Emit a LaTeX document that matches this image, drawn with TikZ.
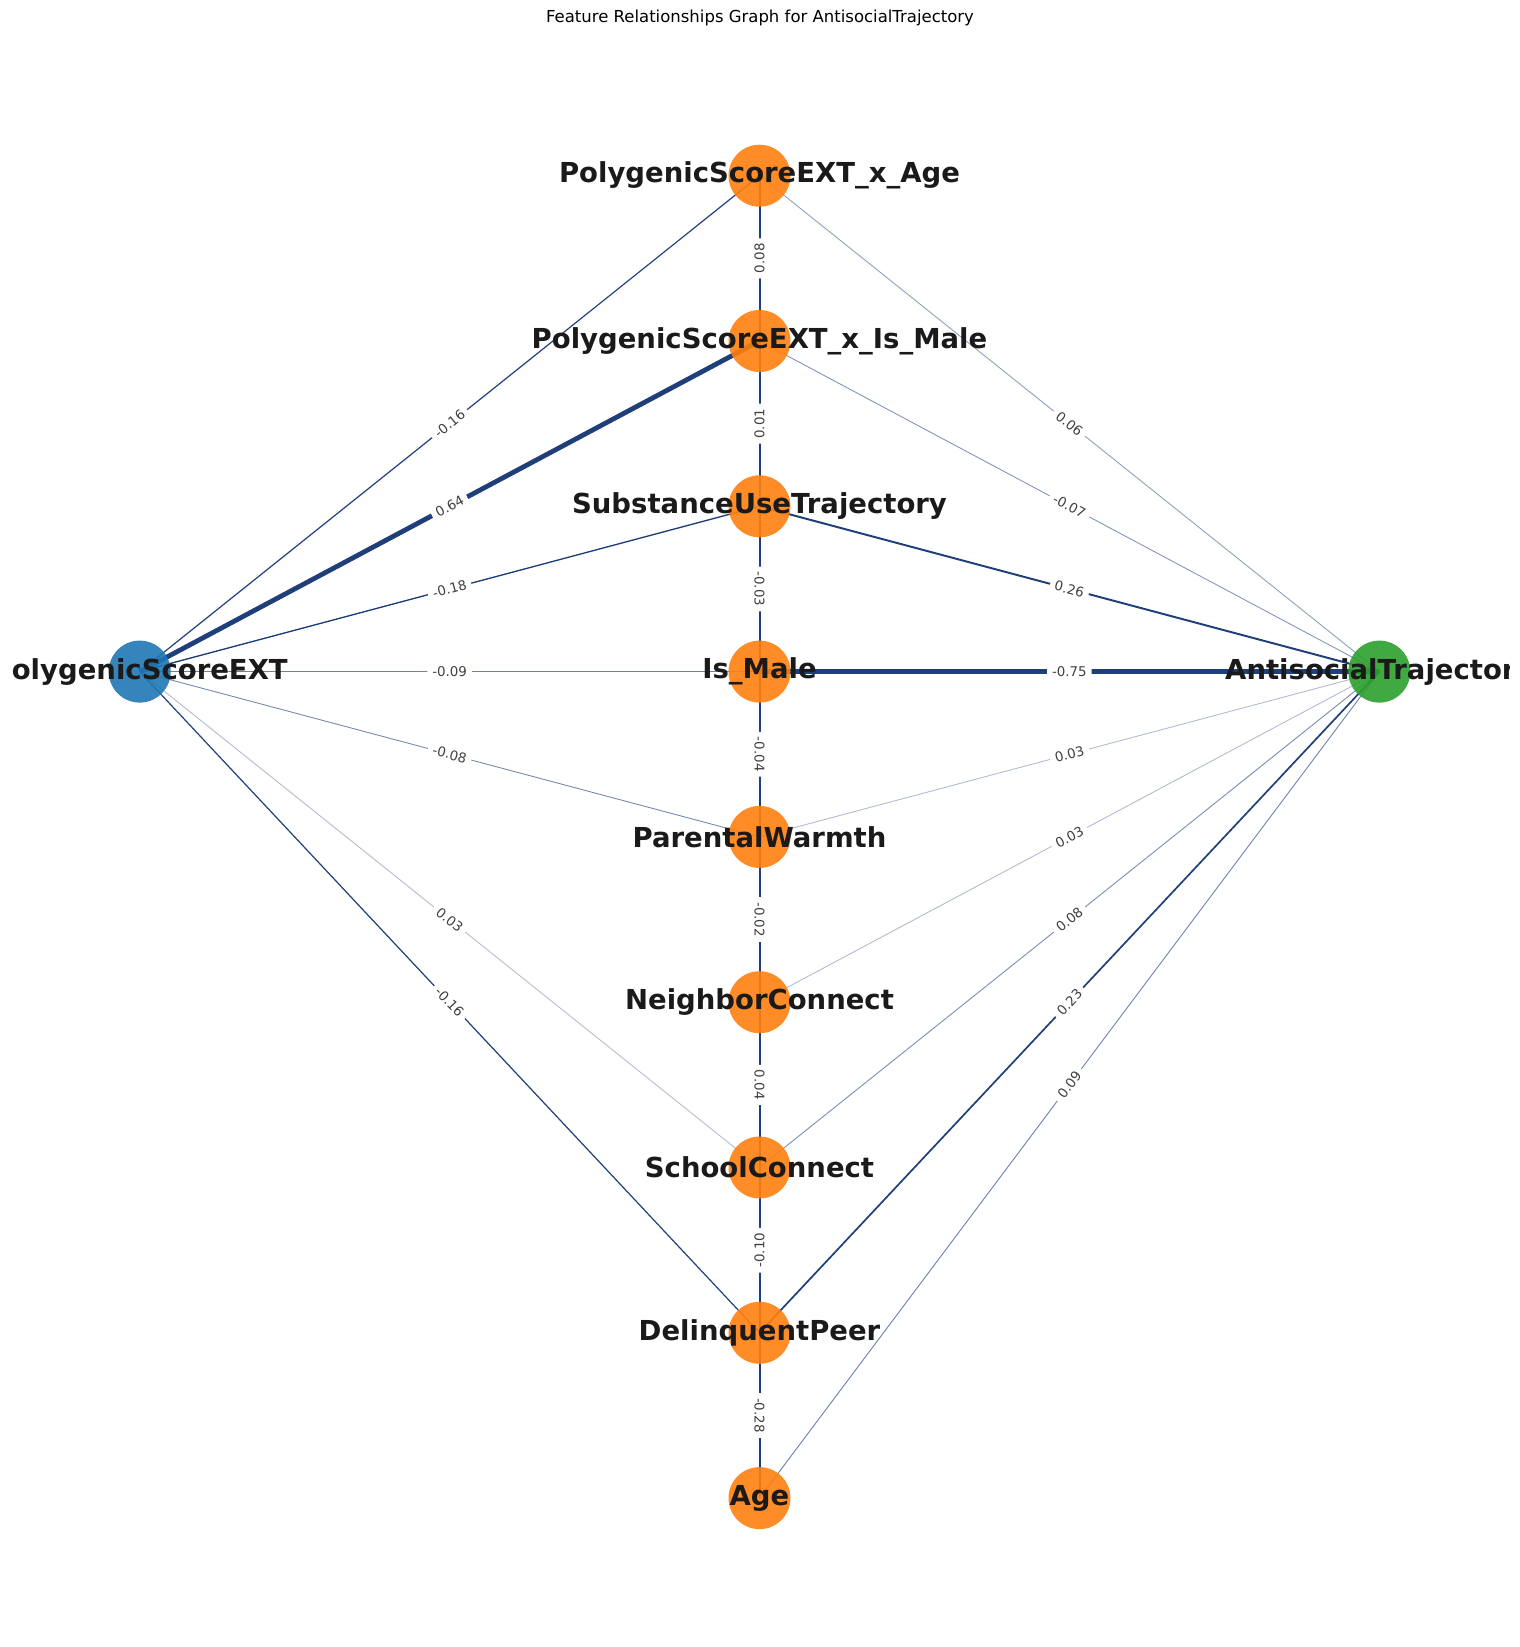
\documentclass[tikz,border=0pt]{standalone}
\usepackage{fontspec}
\setmainfont{DejaVu Sans}
\usepackage{graphicx}

\definecolor{featorange}{RGB}{255,127,14}
\definecolor{predblue}{RGB}{31,119,180}
\definecolor{targetgreen}{RGB}{44,160,44}
\definecolor{edgeblue}{RGB}{30,63,122}
\definecolor{weightgray}{RGB}{64,64,64}
\definecolor{namedark}{RGB}{26,26,26}

\pgfdeclarelayer{edges}
\pgfdeclarelayer{weights}
\pgfsetlayers{edges,weights,main}

\tikzset{
  dot/.style={circle, minimum size=62pt, inner sep=0pt, draw=none,
              fill=#1, fill opacity=0.9},
  dot/.default=featorange,
  featname/.style={font=\bfseries\fontsize{27.5}{30}\selectfont,
                   text=namedark, inner sep=0pt},
  weight/.style={font=\fontsize{13.4}{15}\selectfont, text=weightgray,
                 fill=white, rounded corners=4pt, inner xsep=5pt, inner ysep=3pt},
  rel/.style 2 args={draw=edgeblue, line width=#1pt, draw opacity=#2},
  chain/.style={draw=edgeblue, line width=2pt}
}

\begin{document}
\begin{tikzpicture}[x=1pt, y=-1pt]
  \clip (0,0) rectangle (1520,1647);

  % title
  \node (title) at (760,18)
    {\fontsize{16.5}{18}\selectfont Feature Relationships Graph for AntisocialTrajectory};

  % nodes
  \node[dot=predblue]    (pgs)    at (139.7,671.6)  {};
  \node[dot=targetgreen] (anti)   at (1379.3,671.6) {};
  \node[dot] (psage)  at (759.5,175.7)  {};
  \node[dot] (psmale) at (759.5,341.0)  {};
  \node[dot] (sub)    at (759.5,506.3)  {};
  \node[dot] (male)   at (759.5,671.6)  {};
  \node[dot] (warm)   at (759.5,836.9)  {};
  \node[dot] (neigh)  at (759.5,1002.2) {};
  \node[dot] (school) at (759.5,1167.5) {};
  \node[dot] (peer)   at (759.5,1332.8) {};
  \node[dot] (age)    at (759.5,1498.1) {};

  % names
  \node[featname] (psage-t)  at (psage)  {PolygenicScoreEXT\_x\_Age};
  \node[featname] (psmale-t) at (psmale) {PolygenicScoreEXT\_x\_Is\_Male};
  \node[featname] (sub-t)    at (sub)    {SubstanceUseTrajectory};
  \node[featname] (male-t)   at (male)   {Is\_Male};
  \node[featname] (warm-t)   at (warm)   {ParentalWarmth};
  \node[featname] (neigh-t)  at (neigh)  {NeighborConnect};
  \node[featname] (school-t) at (school) {SchoolConnect};
  \node[featname] (peer-t)   at (peer)   {DelinquentPeer};
  \node[featname] (age-t)    at (age)    {Age};
  \begin{scope}
    \clip (11,0) rectangle (1509,1647);
    \node[featname] (pgs-t)  at (pgs)  {PolygenicScoreEXT};
    \node[featname] (anti-t) at (anti) {AntisocialTrajectory};
  \end{scope}

  % edges and their weights
  \begin{pgfonlayer}{edges}
    % from the polygenic score
    \draw[rel={1.2}{1}]    (pgs.center) -- (psage.center)  coordinate[midway] (m1);
    \draw[rel={4.8}{1}]    (pgs.center) -- (psmale.center) coordinate[midway] (m2);
    \draw[rel={1.35}{1}]   (pgs.center) -- (sub.center);
    \draw[rel={0.9}{0.65}] (pgs.center) -- (male.center);
    \draw[rel={0.9}{0.6}]  (pgs.center) -- (warm.center);
    \draw[rel={0.9}{0.35}] (pgs.center) -- (school.center);
    \draw[rel={1.2}{1}]    (pgs.center) -- (peer.center);
    % into the target
    \draw[rel={0.9}{0.5}]  (psage.center)  -- (anti.center);
    \draw[rel={0.9}{0.55}] (psmale.center) -- (anti.center);
    \draw[rel={1.95}{1}]   (sub.center)    -- (anti.center);
    \draw[rel={5.6}{1}]    (male.center)   -- (anti.center);
    \draw[rel={0.9}{0.35}] (warm.center)   -- (anti.center);
    \draw[rel={0.9}{0.35}] (neigh.center)  -- (anti.center);
    \draw[rel={0.9}{0.6}]  (school.center) -- (anti.center);
    \draw[rel={1.7}{1}]    (peer.center)   -- (anti.center);
    \draw[rel={0.9}{0.65}] (age.center)    -- (anti.center);
    % between neighbouring features
    \draw[chain] (psage.center)  -- (psmale.center);
    \draw[chain] (psmale.center) -- (sub.center);
    \draw[chain] (sub.center)    -- (male.center);
    \draw[chain] (male.center)   -- (warm.center);
    \draw[chain] (warm.center)   -- (neigh.center);
    \draw[chain] (neigh.center)  -- (school.center);
    \draw[chain] (school.center) -- (peer.center);
    \draw[chain] (peer.center)   -- (age.center);
  \end{pgfonlayer}

  \begin{pgfonlayer}{weights}
    \path (pgs.center) -- (psage.center)  node[weight, midway, sloped] (w1) {-0.16};
    \path (pgs.center) -- (psmale.center) node[weight, midway, sloped] (w2) {0.64};
    \path (pgs.center) -- (sub.center)    node[weight, midway, sloped] (w3) {-0.18};
    \path (pgs.center) -- (male.center)   node[weight, midway, sloped] (w4) {-0.09};
    \path (pgs.center) -- (warm.center)   node[weight, midway, sloped] (w5) {-0.08};
    \path (pgs.center) -- (school.center) node[weight, midway, sloped] (w6) {0.03};
    \path (pgs.center) -- (peer.center)   node[weight, midway, sloped] (w7) {-0.16};

    \path (psage.center)  -- (anti.center) node[weight, midway, sloped] (w8)  {0.06};
    \path (psmale.center) -- (anti.center) node[weight, midway, sloped] (w9)  {-0.07};
    \path (sub.center)    -- (anti.center) node[weight, midway, sloped] (w10) {0.26};
    \path (male.center)   -- (anti.center) node[weight, midway, sloped] (w11) {-0.75};
    \path (warm.center)   -- (anti.center) node[weight, midway, sloped] (w12) {0.03};
    \path (neigh.center)  -- (anti.center) node[weight, midway, sloped] (w13) {0.03};
    \path (school.center) -- (anti.center) node[weight, midway, sloped] (w14) {0.08};
    \path (peer.center)   -- (anti.center) node[weight, midway, sloped] (w15) {0.23};
    \path (age.center)    -- (anti.center) node[weight, midway, sloped] (w16) {0.09};

    \path (psage.center)  -- (psmale.center) node[weight, midway, rotate=90]  (w17) {0.08};
    \path (psmale.center) -- (sub.center)    node[weight, midway, rotate=90]  (w18) {0.01};
    \path (sub.center)    -- (male.center)   node[weight, midway, rotate=-90] (w19) {-0.03};
    \path (male.center)   -- (warm.center)   node[weight, midway, rotate=-90] (w20) {-0.04};
    \path (warm.center)   -- (neigh.center)  node[weight, midway, rotate=-90] (w21) {-0.02};
    \path (neigh.center)  -- (school.center) node[weight, midway, rotate=-90] (w22) {0.04};
    \path (school.center) -- (peer.center)   node[weight, midway, rotate=90]  (w23) {-0.10};
    \path (peer.center)   -- (age.center)    node[weight, midway, rotate=-90] (w24) {-0.28};
  \end{pgfonlayer}
\end{tikzpicture}
\end{document}
